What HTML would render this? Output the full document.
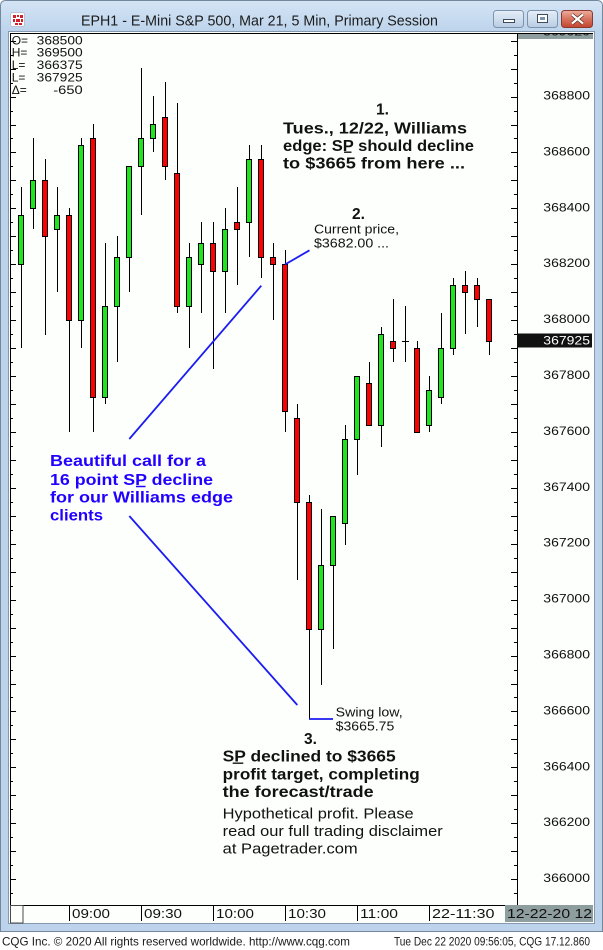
<!DOCTYPE html>
<html><head><meta charset="utf-8">
<style>
html,body{margin:0;padding:0;background:#fff;}
svg{display:block;}
text{font-family:"Liberation Sans",sans-serif;}
</style></head><body>
<svg width="603" height="950" viewBox="0 0 603 950" xmlns="http://www.w3.org/2000/svg">
<defs>
<linearGradient id="tb" x1="0" y1="0" x2="0" y2="1"><stop offset="0" stop-color="#d4e4f5"/><stop offset="1" stop-color="#bdd4ec"/></linearGradient>
<linearGradient id="btn" x1="0" y1="0" x2="0" y2="1"><stop offset="0" stop-color="#e6eef8"/><stop offset="0.5" stop-color="#d0deee"/><stop offset="1" stop-color="#b7cbe2"/></linearGradient>
<linearGradient id="cls" x1="0" y1="0" x2="0" y2="1"><stop offset="0" stop-color="#eeae9e"/><stop offset="0.5" stop-color="#d6735f"/><stop offset="1" stop-color="#c2432e"/></linearGradient>
<clipPath id="topbox"><rect x="518" y="33" width="75" height="6"/></clipPath>
</defs>
<rect width="603" height="950" fill="#fff"/>
<!-- window frame -->
<path d="M0.5 931.5 V6 Q0.5 0.5 6 0.5 H597 Q602.5 0.5 602.5 6 V931.5 Z" fill="#bcd3eb" stroke="#72889f"/>
<path d="M1 6 Q1 1 6 1 H597 Q602 1 602 6 V31 H1 Z" fill="url(#tb)"/>
<!-- icon -->
<rect x="10.5" y="12.5" width="14" height="14" rx="2" fill="#fff" stroke="#b9c4d0"/>
<rect x="13" y="15" width="3" height="3" fill="#d0202a"/><rect x="17" y="15" width="2" height="2" fill="#d0202a"/><rect x="20" y="15" width="3" height="3" fill="#d0202a"/>
<rect x="13" y="19" width="2" height="3" fill="#d0202a"/><rect x="16" y="19" width="4" height="3" fill="#d0202a"/><rect x="21" y="19" width="2" height="3" fill="#d0202a"/>
<rect x="15" y="23" width="3" height="2" fill="#d0202a"/><rect x="19" y="23" width="3" height="2" fill="#d0202a"/>
<!-- title -->
<text x="81" y="25.5" font-size="15" fill="#1c1c1c" textLength="357" lengthAdjust="spacingAndGlyphs">EPH1 - E-Mini S&amp;P 500, Mar 21, 5 Min, Primary Session</text>
<!-- buttons -->
<rect x="493.5" y="10.5" width="30" height="17" rx="3" fill="url(#btn)" stroke="#7d93ad"/>
<rect x="503.5" y="19.5" width="11" height="3" fill="#fff" stroke="#3c4a5c"/>
<rect x="527.5" y="10.5" width="30" height="17" rx="3" fill="url(#btn)" stroke="#7d93ad"/>
<rect x="537.5" y="14.5" width="10" height="8" fill="#fff" stroke="#3c4a5c"/>
<rect x="540" y="17" width="5" height="3" fill="#7d93ad"/>
<rect x="561.5" y="10.5" width="31" height="17" rx="3" fill="url(#cls)" stroke="#8a3a2e"/>
<path d="M572 14.5 L583 23.5 M583 14.5 L572 23.5" stroke="#5a2a20" stroke-width="3.5"/>
<path d="M572 14.5 L583 23.5 M583 14.5 L572 23.5" stroke="#fff" stroke-width="2.2"/>
<!-- client area -->
<rect x="8.5" y="31.5" width="586" height="892" fill="#fcfffc" stroke="#8498ae"/>
<!-- top-right gray box -->
<rect x="518" y="33" width="75" height="6" fill="#8e9d9d"/>
<text x="543" y="35.5" font-size="12" fill="#1a1a1a" clip-path="url(#topbox)" textLength="47" lengthAdjust="spacingAndGlyphs">369020</text>
<!-- plot frame lines -->
<path d="M10.5 33 V923 M10 33.5 H593 M517.5 33 V906 M10 905.5 H593" stroke="#000" fill="none"/>
<!-- left ticks -->
<path stroke="#000" fill="none" d="M10 41.5h6M10 69.5h6M10 97.5h6M10 125.5h6M10 152.5h6M10 180.5h6M10 208.5h6M10 236.5h6M10 264.5h6M10 292.5h6M10 320.5h6M10 348.5h6M10 376.5h6M10 404.5h6M10 432.5h6M10 460.5h6M10 488.5h6M10 516.5h6M10 544.5h6M10 572.5h6M10 600.5h6M10 628.5h6M10 656.5h6M10 684.5h6M10 711.5h6M10 739.5h6M10 767.5h6M10 795.5h6M10 823.5h6M10 851.5h6M10 879.5h6
M10 55.5h3M10 83.5h3M10 111.5h3M10 138.5h3M10 166.5h3M10 194.5h3M10 222.5h3M10 250.5h3M10 278.5h3M10 306.5h3M10 334.5h3M10 362.5h3M10 390.5h3M10 418.5h3M10 446.5h3M10 474.5h3M10 502.5h3M10 530.5h3M10 558.5h3M10 586.5h3M10 614.5h3M10 642.5h3M10 670.5h3M10 697.5h3M10 725.5h3M10 753.5h3M10 781.5h3M10 809.5h3M10 837.5h3M10 865.5h3M10 893.5h3"/>
<!-- right ticks -->
<path stroke="#000" fill="none" d="M511 41.5h6M511 69.5h6M511 97.5h6M511 125.5h6M511 152.5h6M511 180.5h6M511 208.5h6M511 236.5h6M511 264.5h6M511 292.5h6M511 320.5h6M511 348.5h6M511 376.5h6M511 404.5h6M511 432.5h6M511 460.5h6M511 488.5h6M511 516.5h6M511 544.5h6M511 572.5h6M511 600.5h6M511 628.5h6M511 656.5h6M511 684.5h6M511 711.5h6M511 739.5h6M511 767.5h6M511 795.5h6M511 823.5h6M511 851.5h6M511 879.5h6
M514 55.5h3M514 83.5h3M514 111.5h3M514 138.5h3M514 166.5h3M514 194.5h3M514 222.5h3M514 250.5h3M514 278.5h3M514 306.5h3M514 334.5h3M514 362.5h3M514 390.5h3M514 418.5h3M514 446.5h3M514 474.5h3M514 502.5h3M514 530.5h3M514 558.5h3M514 586.5h3M514 614.5h3M514 642.5h3M514 670.5h3M514 697.5h3M514 725.5h3M514 753.5h3M514 781.5h3M514 809.5h3M514 837.5h3M514 865.5h3M514 893.5h3"/>
<!-- right axis labels -->
<g font-size="12" fill="#111">
<text x="543.3" y="99.5" textLength="46.7" lengthAdjust="spacingAndGlyphs">368800</text>
<text x="543.3" y="155.4" textLength="46.7" lengthAdjust="spacingAndGlyphs">368600</text>
<text x="543.3" y="211.3" textLength="46.7" lengthAdjust="spacingAndGlyphs">368400</text>
<text x="543.3" y="267.2" textLength="46.7" lengthAdjust="spacingAndGlyphs">368200</text>
<text x="543.3" y="323.1" textLength="46.7" lengthAdjust="spacingAndGlyphs">368000</text>
<text x="543.3" y="379" textLength="46.7" lengthAdjust="spacingAndGlyphs">367800</text>
<text x="543.3" y="434.9" textLength="46.7" lengthAdjust="spacingAndGlyphs">367600</text>
<text x="543.3" y="490.8" textLength="46.7" lengthAdjust="spacingAndGlyphs">367400</text>
<text x="543.3" y="546.7" textLength="46.7" lengthAdjust="spacingAndGlyphs">367200</text>
<text x="543.3" y="602.6" textLength="46.7" lengthAdjust="spacingAndGlyphs">367000</text>
<text x="543.3" y="658.5" textLength="46.7" lengthAdjust="spacingAndGlyphs">366800</text>
<text x="543.3" y="714.4" textLength="46.7" lengthAdjust="spacingAndGlyphs">366600</text>
<text x="543.3" y="770.3" textLength="46.7" lengthAdjust="spacingAndGlyphs">366400</text>
<text x="543.3" y="826.2" textLength="46.7" lengthAdjust="spacingAndGlyphs">366200</text>
<text x="543.3" y="882.1" textLength="46.7" lengthAdjust="spacingAndGlyphs">366000</text>
</g>
<!-- current price box -->
<rect x="517" y="333.5" width="75" height="14" fill="#111"/>
<text x="543.3" y="344.5" font-size="12" fill="#fff" textLength="46.7" lengthAdjust="spacingAndGlyphs">367925</text>
<!-- OHLC -->
<g font-size="12" fill="#111">
<text x="11.7" y="44.3">O=</text><text x="36.7" y="44.3" textLength="46" lengthAdjust="spacingAndGlyphs">368500</text>
<text x="11.7" y="56.7">H=</text><text x="36.7" y="56.7" textLength="46" lengthAdjust="spacingAndGlyphs">369500</text>
<text x="11.7" y="69">L=</text><text x="36.7" y="69" textLength="46" lengthAdjust="spacingAndGlyphs">366375</text>
<text x="11.7" y="81.3">L=</text><text x="36.7" y="81.3" textLength="46" lengthAdjust="spacingAndGlyphs">367925</text>
<text x="11.7" y="94">Δ=</text><text x="53.3" y="94" textLength="29.4" lengthAdjust="spacingAndGlyphs">-650</text>
</g>
<!-- candles -->
<g stroke="#000" stroke-width="1">
<line x1="21.5" y1="187" x2="21.5" y2="348"/><rect x="18.5" y="215.5" width="5" height="49" fill="#1de61d"/>
<line x1="33.5" y1="138" x2="33.5" y2="229"/><rect x="30.5" y="180.5" width="5" height="28" fill="#1de61d"/>
<line x1="45.5" y1="159" x2="45.5" y2="335"/><rect x="42.5" y="180.5" width="5" height="56" fill="#f00"/>
<line x1="57.5" y1="187" x2="57.5" y2="292"/><rect x="54.5" y="215.5" width="5" height="14" fill="#1de61d"/>
<line x1="69.5" y1="208" x2="69.5" y2="432"/><rect x="66.5" y="215.5" width="5" height="105" fill="#f00"/>
<line x1="81.5" y1="138" x2="81.5" y2="348"/><rect x="78.5" y="145.5" width="5" height="175" fill="#1de61d"/>
<line x1="93.5" y1="124" x2="93.5" y2="432"/><rect x="90.5" y="138.5" width="5" height="259" fill="#f00"/>
<line x1="105.5" y1="243" x2="105.5" y2="404"/><rect x="102.5" y="306.5" width="5" height="91" fill="#1de61d"/>
<line x1="117.5" y1="236" x2="117.5" y2="362"/><rect x="114.5" y="257.5" width="5" height="49" fill="#1de61d"/>
<line x1="129.5" y1="166" x2="129.5" y2="292"/><rect x="126.5" y="166.5" width="5" height="91" fill="#1de61d"/>
<line x1="141.5" y1="68" x2="141.5" y2="215"/><rect x="138.5" y="138.5" width="5" height="28" fill="#1de61d"/>
<line x1="153.5" y1="96" x2="153.5" y2="152"/><rect x="150.5" y="124.5" width="5" height="14" fill="#1de61d"/>
<line x1="165.5" y1="82" x2="165.5" y2="180"/><rect x="162.5" y="117.5" width="5" height="49" fill="#f00"/>
<line x1="177.5" y1="103" x2="177.5" y2="313"/><rect x="174.5" y="173.5" width="5" height="133" fill="#f00"/>
<line x1="189.5" y1="243" x2="189.5" y2="348"/><rect x="186.5" y="257.5" width="5" height="49" fill="#1de61d"/>
<line x1="201.5" y1="222" x2="201.5" y2="313"/><rect x="198.5" y="243.5" width="5" height="21" fill="#1de61d"/>
<line x1="213.5" y1="222" x2="213.5" y2="369"/><rect x="210.5" y="243.5" width="5" height="28" fill="#f00"/>
<line x1="225.5" y1="208" x2="225.5" y2="313"/><rect x="222.5" y="229.5" width="5" height="42" fill="#1de61d"/>
<line x1="237.5" y1="187" x2="237.5" y2="285"/><rect x="234.5" y="222.5" width="5" height="7" fill="#f00"/>
<line x1="249.5" y1="145" x2="249.5" y2="257"/><rect x="246.5" y="159.5" width="5" height="63" fill="#1de61d"/>
<line x1="261.5" y1="145" x2="261.5" y2="278"/><rect x="258.5" y="159.5" width="5" height="98" fill="#f00"/>
<line x1="273.5" y1="243" x2="273.5" y2="320"/><rect x="270.5" y="257.5" width="5" height="7" fill="#f00"/>
<line x1="285.5" y1="250" x2="285.5" y2="432"/><rect x="282.5" y="264.5" width="5" height="147" fill="#f00"/>
<line x1="297.5" y1="404" x2="297.5" y2="580"/><rect x="294.5" y="418.5" width="5" height="84" fill="#f00"/>
<line x1="309.5" y1="495" x2="309.5" y2="719"/><rect x="306.5" y="502.5" width="5" height="127" fill="#f00"/>
<line x1="321.5" y1="509" x2="321.5" y2="685"/><rect x="318.5" y="565.5" width="5" height="64" fill="#1de61d"/>
<line x1="333.5" y1="516" x2="333.5" y2="649"/><rect x="330.5" y="516.5" width="5" height="49" fill="#1de61d"/>
<line x1="345.5" y1="425" x2="345.5" y2="545"/><rect x="342.5" y="439.5" width="5" height="84" fill="#1de61d"/>
<line x1="357.5" y1="376" x2="357.5" y2="475"/><rect x="354.5" y="376.5" width="5" height="63" fill="#1de61d"/>
<line x1="369.5" y1="362" x2="369.5" y2="425"/><rect x="366.5" y="383.5" width="5" height="42" fill="#f00"/>
<line x1="381.5" y1="327" x2="381.5" y2="447"/><rect x="378.5" y="334.5" width="5" height="91" fill="#1de61d"/>
<line x1="393.5" y1="299" x2="393.5" y2="362"/><rect x="390.5" y="341.5" width="5" height="7" fill="#f00"/>
<line x1="405.5" y1="306" x2="405.5" y2="362"/><line x1="402" y1="341.5" x2="409" y2="341.5"/>
<line x1="417.5" y1="341" x2="417.5" y2="432"/><rect x="414.5" y="348.5" width="5" height="84" fill="#f00"/>
<line x1="429.5" y1="376" x2="429.5" y2="432"/><rect x="426.5" y="390.5" width="5" height="35" fill="#1de61d"/>
<line x1="441.5" y1="313" x2="441.5" y2="404"/><rect x="438.5" y="348.5" width="5" height="49" fill="#1de61d"/>
<line x1="453.5" y1="278" x2="453.5" y2="355"/><rect x="450.5" y="285.5" width="5" height="63" fill="#1de61d"/>
<line x1="465.5" y1="271" x2="465.5" y2="334"/><rect x="462.5" y="285.5" width="5" height="7" fill="#f00"/>
<line x1="477.5" y1="278" x2="477.5" y2="327"/><rect x="474.5" y="285.5" width="5" height="14" fill="#f00"/>
<line x1="489.5" y1="299" x2="489.5" y2="355"/><rect x="486.5" y="299.5" width="5" height="42" fill="#f00"/>
</g>
<!-- blue lines -->
<g stroke="#1c1cf2" stroke-width="1.8" fill="none">
<line x1="129.3" y1="439" x2="261.3" y2="285.7"/>
<line x1="129.3" y1="516" x2="297.3" y2="705"/>
<line x1="285" y1="264.5" x2="309.5" y2="250.3"/>
<line x1="309" y1="719" x2="333" y2="719"/>
</g>
<!-- annotation 1 -->
<g font-size="15.5" font-weight="bold" fill="#111">
<text x="376" y="114.3">1.</text>
<text x="283" y="133.3" textLength="184" lengthAdjust="spacingAndGlyphs">Tues., 12/22, Williams</text>
<text x="283" y="151" textLength="191" lengthAdjust="spacingAndGlyphs">edge: SP should decline</text>
<text x="283" y="168.3" textLength="182" lengthAdjust="spacingAndGlyphs">to $3665 from here ...</text>
<text x="352" y="219">2.</text>
<text x="304" y="744">3.</text>
<text x="222.7" y="761.7" textLength="173" lengthAdjust="spacingAndGlyphs">SP declined to $3665</text>
<text x="222.7" y="779.4" textLength="197" lengthAdjust="spacingAndGlyphs">profit target, completing</text>
<text x="222.7" y="797" textLength="151" lengthAdjust="spacingAndGlyphs">the forecast/trade</text>
</g>
<path d="M344 152.2h7.5M232.7 763.2h10.6" stroke="#111" stroke-width="1.4"/>
<g font-size="12.5" fill="#111">
<text x="314" y="233.7" textLength="85" lengthAdjust="spacingAndGlyphs">Current price,</text>
<text x="314" y="247.7" textLength="75" lengthAdjust="spacingAndGlyphs">$3682.00 ...</text>
<text x="335.7" y="716.7" textLength="67" lengthAdjust="spacingAndGlyphs">Swing low,</text>
<text x="335.7" y="730.7" textLength="58.6" lengthAdjust="spacingAndGlyphs">$3665.75</text>
</g>
<g font-size="14.5" fill="#111">
<text x="222.7" y="818.3" textLength="191" lengthAdjust="spacingAndGlyphs">Hypothetical profit. Please</text>
<text x="222.7" y="836" textLength="220" lengthAdjust="spacingAndGlyphs">read our full trading disclaimer</text>
<text x="222.7" y="853.3" textLength="135" lengthAdjust="spacingAndGlyphs">at Pagetrader.com</text>
</g>
<!-- blue annotation -->
<g font-size="16" font-weight="bold" fill="#2200ff">
<text x="50" y="466" textLength="156" lengthAdjust="spacingAndGlyphs">Beautiful call for a</text>
<text x="50" y="485" textLength="163" lengthAdjust="spacingAndGlyphs">16 point SP decline</text>
<text x="50" y="502.7" textLength="183" lengthAdjust="spacingAndGlyphs">for our Williams edge</text>
<text x="50" y="520.3" textLength="53" lengthAdjust="spacingAndGlyphs">clients</text>
</g>
<path d="M136 486.5h9.5" stroke="#2200ff" stroke-width="1.5"/>
<!-- time axis -->
<rect x="10.5" y="905.5" width="12.5" height="17.5" fill="#fcfffc" stroke="#4a4a4a"/>
<rect x="505" y="905" width="88" height="17" fill="#8e9d9d"/>
<path d="M69.5 905V921M141.5 905V921M213.5 905V921M285.5 905V921M357.5 905V921M429.5 905V921" stroke="#000"/>
<g font-size="12.5" fill="#111">
<text x="72" y="918" textLength="38" lengthAdjust="spacingAndGlyphs">09:00</text>
<text x="144" y="918" textLength="38" lengthAdjust="spacingAndGlyphs">09:30</text>
<text x="216" y="918" textLength="38" lengthAdjust="spacingAndGlyphs">10:00</text>
<text x="288" y="918" textLength="38" lengthAdjust="spacingAndGlyphs">10:30</text>
<text x="360" y="918" textLength="38" lengthAdjust="spacingAndGlyphs">11:00</text>
<text x="432" y="918" textLength="62.5" lengthAdjust="spacingAndGlyphs">22-11:30</text>
<text x="507" y="918" textLength="85" lengthAdjust="spacingAndGlyphs">12-22-20  12</text>
</g>
<!-- footer -->
<rect x="0" y="932" width="603" height="18" fill="#fff"/>
<g font-size="12" fill="#1a1a1a">
<text x="2" y="945.5" textLength="348" lengthAdjust="spacingAndGlyphs">CQG Inc. © 2020 All rights reserved worldwide. http://www.cqg.com</text>
<text x="394" y="945.5" textLength="196" lengthAdjust="spacingAndGlyphs">Tue Dec 22 2020 09:56:05, CQG 17.12.860</text>
</g>
</svg>
</body></html>
